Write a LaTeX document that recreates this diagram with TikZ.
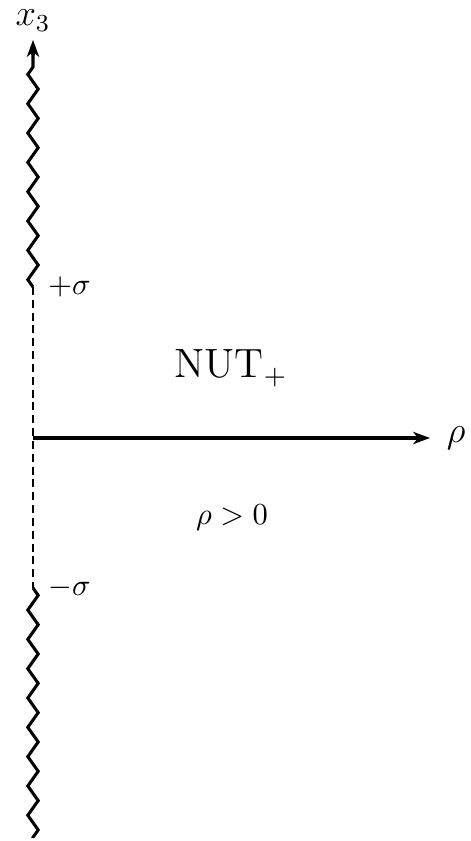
\documentclass[tikz,border=0pt]{standalone}
\usetikzlibrary{positioning,arrows.meta,decorations.pathmorphing}

\begin{document}
\begin{tikzpicture}[x=0.0115cm,y=0.0115cm,
    axe/.style={line width=1pt},
    fleche/.style={axe,-{Stealth[length=5.5pt,width=4pt,inset=1.6pt]}},
    coupure/.style={axe,decorate,decoration={zigzag,segment length=9.6pt,amplitude=1.7pt}},
    pointille/.style={line width=0.85pt,dash pattern=on 2.6pt off 1.6pt}]
  \useasboundingbox (-33,-403) rectangle (438,438);
  \coordinate (O) at (0,0);
  \coordinate (hautZ) at (0,383);
  \coordinate (haut) at (0,398);
  \coordinate (plusS) at (0,151);
  \coordinate (moinsS) at (0,-150);
  \coordinate (bas) at (0,-400);
  \coordinate (droite) at (397,0);
  \draw[coupure] (plusS) -- (hautZ);
  \draw[fleche] (hautZ) -- (haut);
  \draw[pointille] (plusS) -- (moinsS);
  \draw[coupure] (moinsS) -- (bas);
  \draw[fleche] (O) -- (droite);
  \node[above=1.6pt of haut, font=\large, inner sep=1pt] (x3) {$x_3$};
  \node[right=2pt of droite, font=\large] (rho) {$\rho$};
  \node[right=1.5pt of plusS] (plus) {$+\sigma$};
  \node[right=1.5pt of moinsS] (moins) {$-\sigma$};
  \node[font=\fontsize{13.4}{16}\selectfont] (nut) at (198,70) {NUT$_+$};
  \node (pos) at (199,-80) {$\rho>0$};
\end{tikzpicture}
\end{document}
